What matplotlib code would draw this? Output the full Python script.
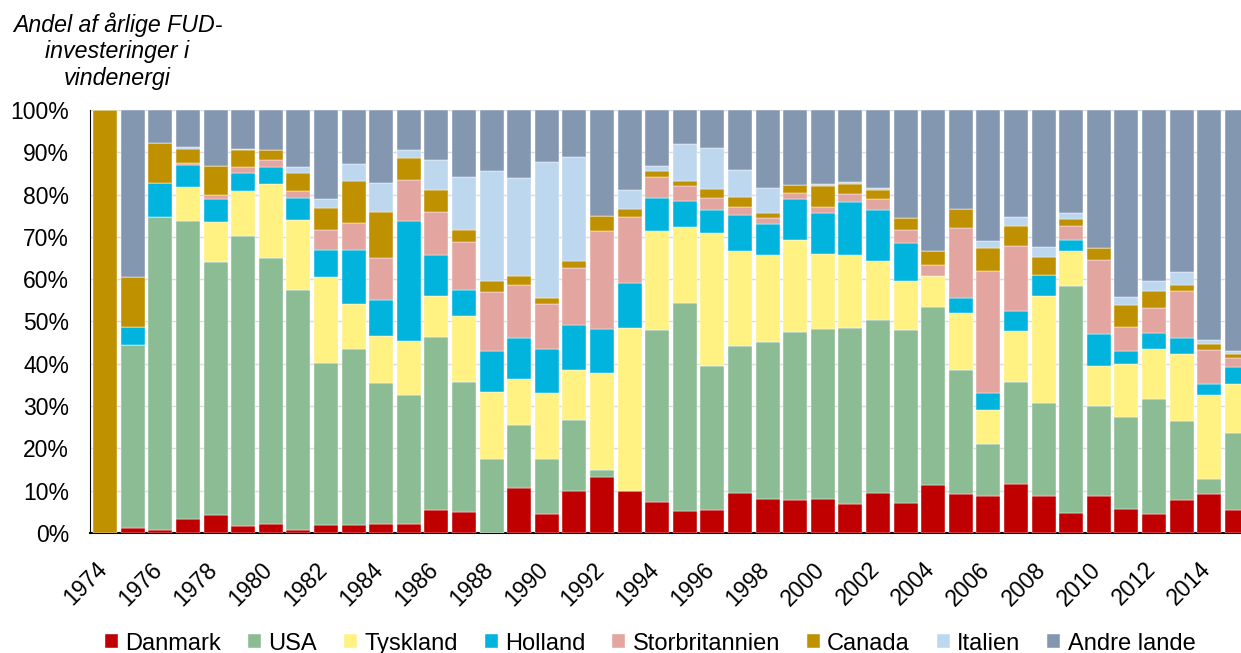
import numpy as np
import matplotlib
matplotlib.use("Agg")
import matplotlib.pyplot as plt
import matplotlib.transforms as mtransforms
from matplotlib.ticker import PercentFormatter

plt.rcParams['font.family'] = ['Liberation Sans', 'DejaVu Sans']

years = list(range(1974, 2016))

# Shares of annual R&D investment in wind energy (%)
danmark = [0, 1.2, 0.7, 3.3, 4.3, 1.7, 2.1, 0.7, 1.8, 1.8,
           2.2, 2.1, 5.4, 5.0, 0, 10.6, 4.5, 9.9, 13.2, 10.0,
           7.3, 5.1, 5.4, 9.4, 8.0, 7.8, 8.0, 6.9, 9.4, 7.0,
           11.3, 9.2, 8.8, 11.6, 8.8, 4.7, 8.8, 5.7, 4.5, 7.8,
           9.1, 5.4]
usa = [0, 43.2, 74.1, 70.5, 59.7, 68.6, 63.0, 56.7, 38.4, 41.7,
       33.2, 30.4, 40.9, 30.6, 17.4, 14.9, 12.9, 16.7, 1.6, 0,
       40.6, 49.2, 34.0, 34.8, 37.1, 39.7, 40.2, 41.5, 40.9, 41.0,
       42.0, 29.4, 12.1, 24.1, 22.0, 53.7, 21.2, 21.7, 27.2, 18.6,
       3.6, 18.3]
tyskland = [0, 0, 0, 7.9, 9.6, 10.6, 17.5, 16.6, 20.4, 10.7,
            11.2, 12.8, 9.8, 15.7, 15.9, 10.9, 15.7, 11.9, 23.1, 38.5,
            23.6, 18.0, 31.5, 22.4, 20.7, 21.8, 17.7, 17.3, 14.1, 11.5,
            7.5, 13.3, 8.2, 12.1, 25.3, 8.2, 9.4, 12.6, 11.8, 16.0,
            19.9, 11.6]
holland = [0, 4.3, 7.9, 5.4, 5.3, 4.3, 4.0, 5.3, 6.4, 12.8,
           8.4, 28.5, 9.7, 6.2, 9.8, 9.7, 10.4, 10.6, 10.4, 10.6,
           7.8, 6.2, 5.5, 8.6, 7.3, 9.6, 9.7, 12.6, 11.9, 9.1,
           0, 3.7, 4.0, 4.6, 5.0, 2.7, 7.7, 3.0, 3.8, 3.7,
           2.6, 4.0]
storbritannien = [0, 0, 0, 0.4, 0.9, 1.4, 1.7, 1.5, 4.6, 6.2,
                  10.0, 9.6, 10.2, 11.3, 13.8, 12.6, 10.6, 13.5, 23.2, 15.6,
                  4.8, 3.5, 2.9, 1.9, 1.4, 1.4, 1.5, 1.8, 2.6, 3.0,
                  2.5, 16.4, 28.8, 15.5, 0, 3.3, 17.4, 5.8, 5.9, 11.2,
                  8.1, 2.1]
canada = [100, 11.7, 9.4, 3.4, 7.0, 3.9, 2.2, 4.4, 5.3, 10.0,
          10.9, 5.3, 5.2, 2.8, 2.7, 2.0, 1.4, 1.6, 3.4, 2.0,
          1.5, 1.2, 2.0, 2.3, 1.1, 1.9, 4.9, 2.4, 2.3, 2.9,
          3.3, 4.7, 5.5, 4.7, 4.2, 1.7, 2.9, 5.1, 4.1, 1.4,
          1.4, 1.0]
italien = [0, 0, 0, 0.3, 0, 0.2, 0, 1.3, 2.0, 4.1,
           6.8, 1.8, 7.0, 12.6, 26.0, 23.2, 32.2, 24.8, 0, 4.4,
           1.2, 8.8, 9.7, 6.4, 5.9, 0, 0.6, 0.5, 0.3, 0,
           0, 0, 1.6, 2.1, 2.3, 1.3, 0, 1.9, 2.2, 3.0,
           0.8, 0.5]
andre = [0, 39.6, 7.9, 8.8, 13.2, 9.3, 9.5, 13.5, 21.1, 12.7,
         17.3, 9.5, 11.8, 15.8, 14.4, 16.1, 12.3, 11.0, 25.1, 18.9,
         13.2, 8.0, 9.0, 14.2, 18.5, 17.8, 17.4, 17.0, 18.5, 25.5,
         33.4, 23.3, 31.0, 25.3, 32.4, 24.4, 32.6, 44.2, 40.5, 38.3,
         54.5, 57.1]

series = [
    ('Danmark', danmark, '#C00000'),
    ('USA', usa, '#8BBC94'),
    ('Tyskland', tyskland, '#FFF283'),
    ('Holland', holland, '#00B4DE'),
    ('Storbritannien', storbritannien, '#E2A59F'),
    ('Canada', canada, '#BF9000'),
    ('Italien', italien, '#BDD7EE'),
    ('Andre lande', andre, '#8497B0'),
]

fig = plt.figure(figsize=(12.41, 6.53), dpi=100)
ax = fig.add_axes([0.0725, 0.184, 0.9275, 0.6475])

x = np.arange(len(years))
bottom = np.zeros(len(years))
for name, vals, color in series:
    vals = np.array(vals, dtype=float)
    ax.bar(x, vals, bottom=bottom, width=0.87, color=color, label=name,
           edgecolor='white', linewidth=0.3, zorder=3)
    bottom += vals

ax.set_ylim(0, 100)
ax.set_xlim(-0.55, 41.15)
ax.yaxis.set_major_locator(plt.MultipleLocator(10))
ax.yaxis.set_major_formatter(PercentFormatter(decimals=0))
ax.grid(axis='y', color='#D9D9D9', linewidth=1, zorder=0)
ax.tick_params(axis='y', length=0, labelsize=16.5, pad=15)
ax.tick_params(axis='x', length=0, labelsize=16.5, pad=18)

ax.set_xticks(x[::2])
ax.set_xticklabels([str(y) for y in years[::2]], rotation=45, ha='right',
                   rotation_mode='anchor')
shift = mtransforms.ScaledTranslation(-10 / 100, 0, fig.dpi_scale_trans)
for lab in ax.get_xticklabels():
    lab.set_transform(lab.get_transform() + shift)

for s in ['top', 'right']:
    ax.spines[s].set_visible(False)
ax.spines['left'].set_color('black')
ax.spines['bottom'].set_color('black')
ax.spines['bottom'].set_linewidth(1.5)

fig.text(0.0947, 0.922, 'Andel af årlige FUD-\ninvesteringer i\nvindenergi',
         ha='center', va='center', fontsize=16.7, style='italic', linespacing=1.2)

handles, labels = ax.get_legend_handles_labels()
fig.legend(handles, labels, loc='lower center', bbox_to_anchor=(0.524, -0.035),
           ncol=8, frameon=False, fontsize=17, handlelength=0.55, handleheight=0.55,
           handletextpad=0.3, columnspacing=1.15)

fig.savefig('out.png', dpi=100)
